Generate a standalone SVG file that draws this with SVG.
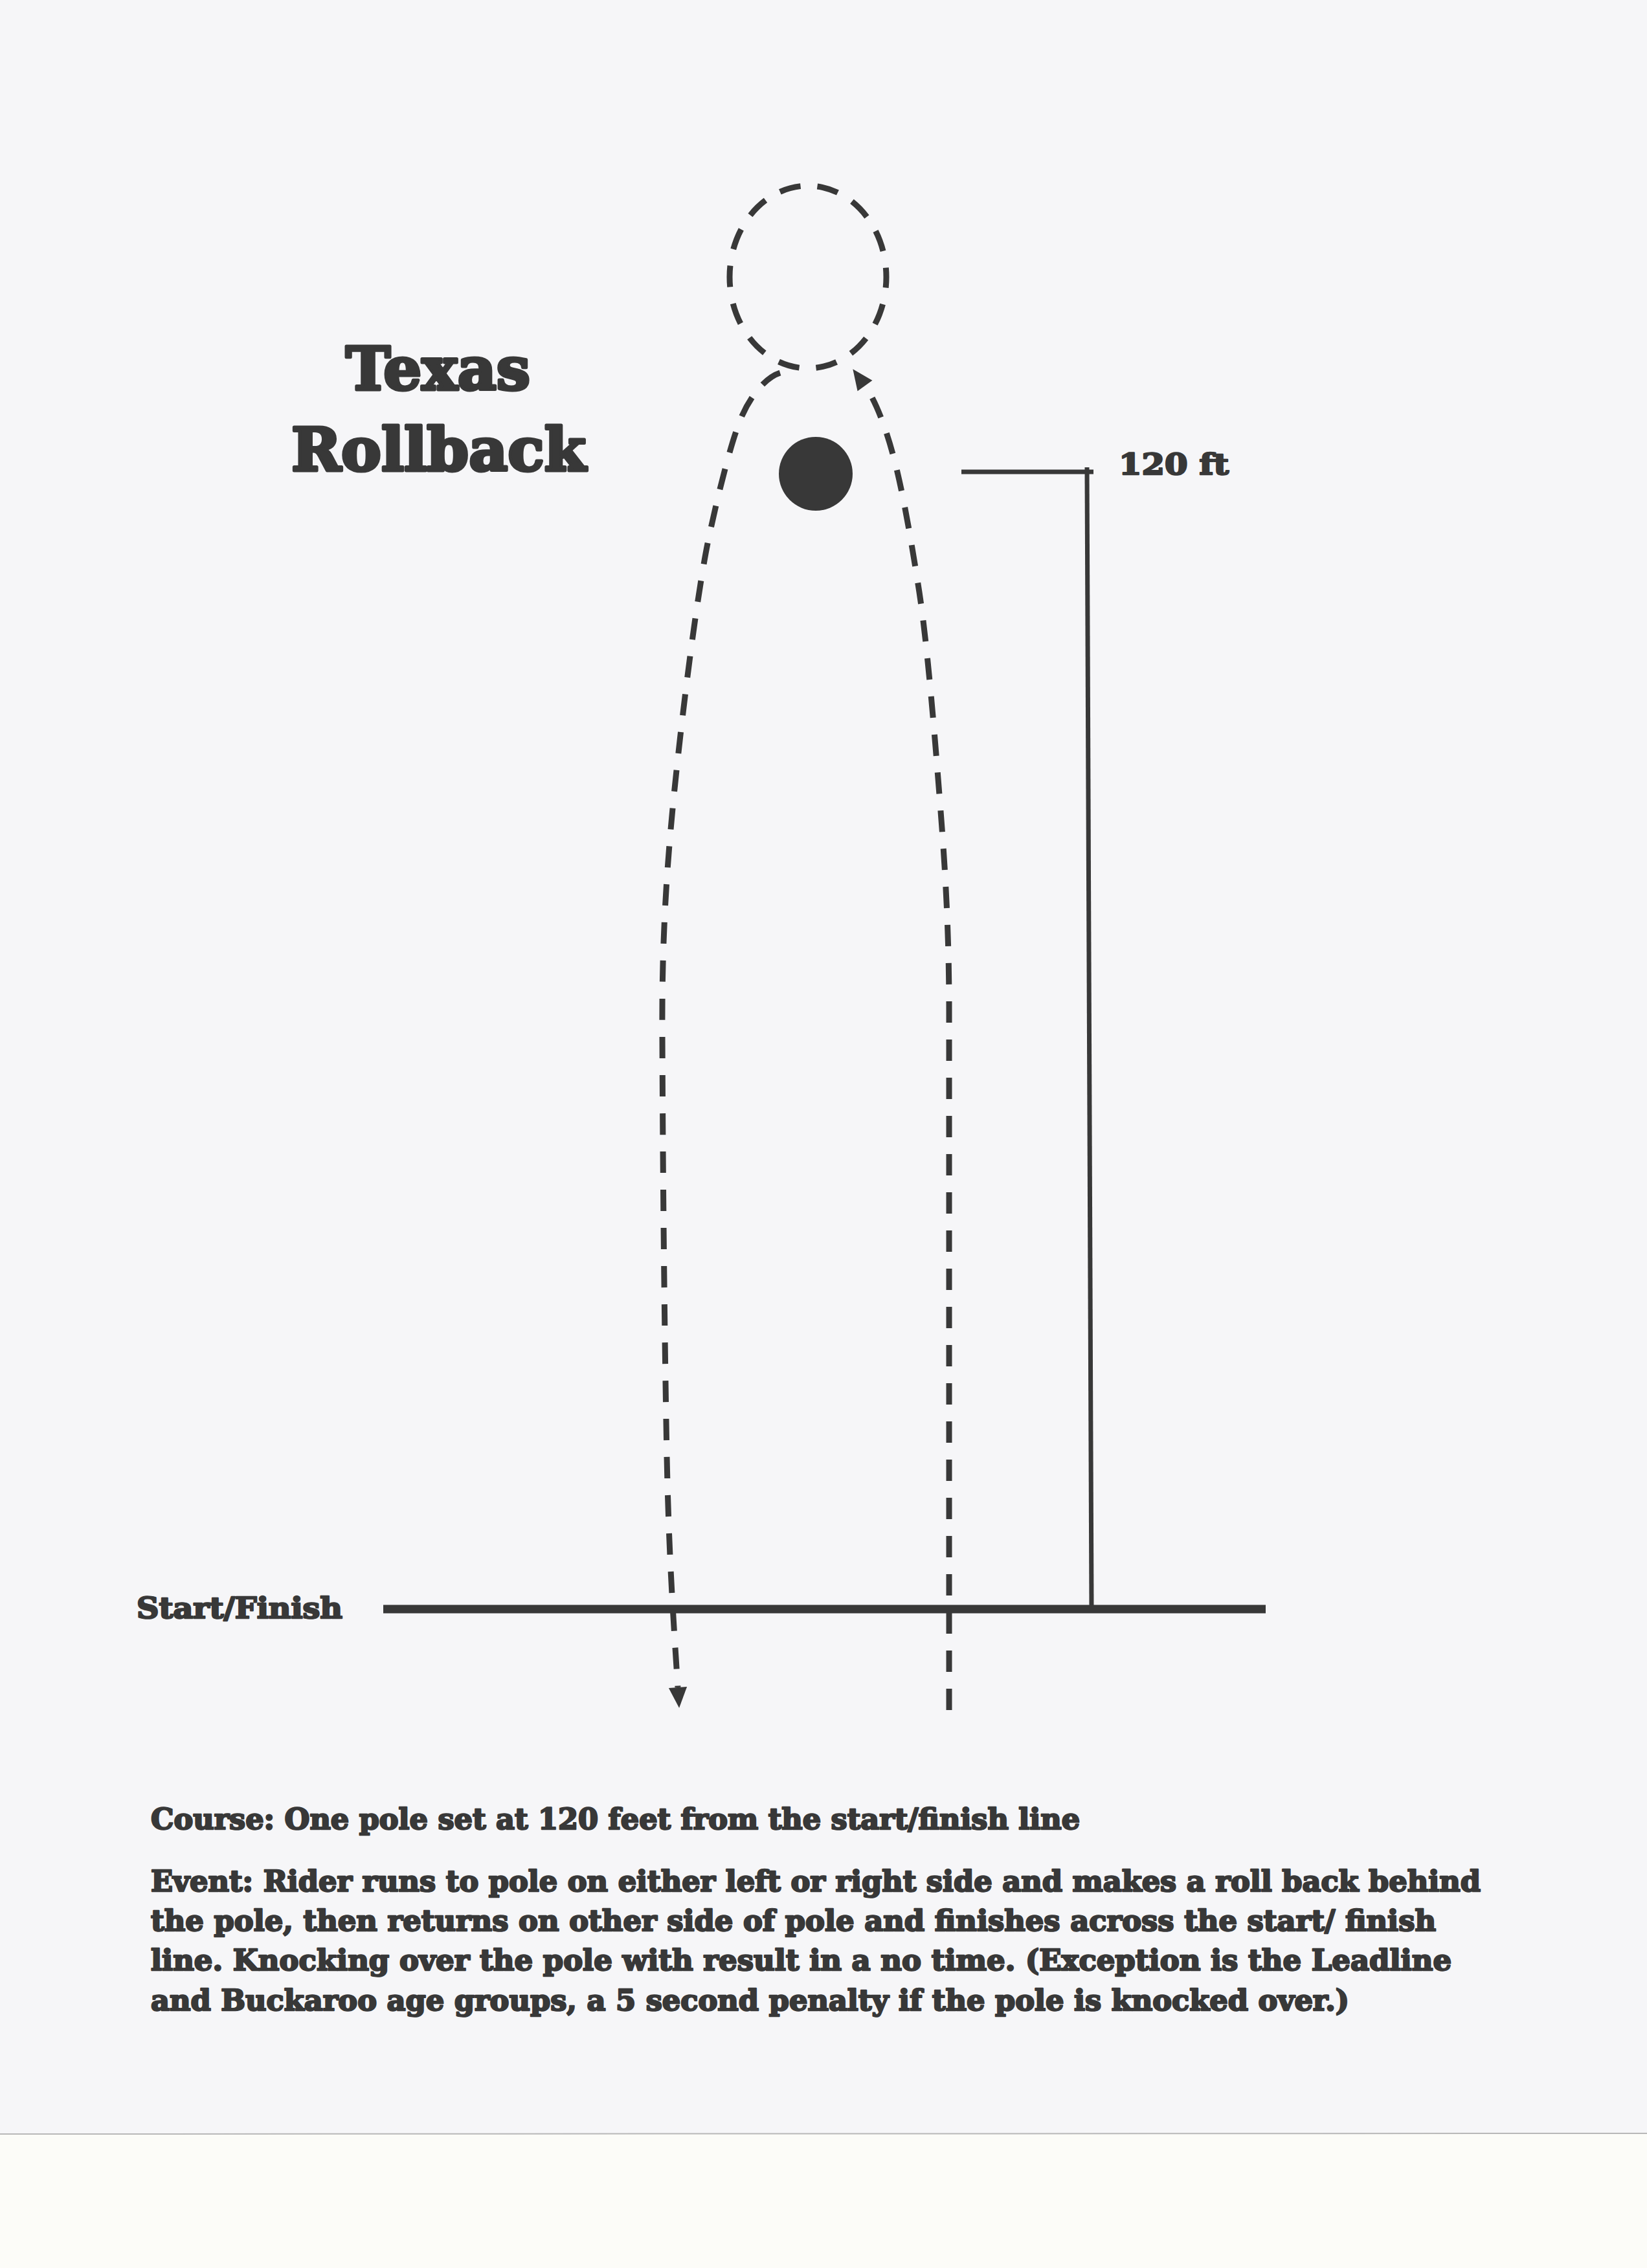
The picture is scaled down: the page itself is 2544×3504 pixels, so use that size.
<svg xmlns="http://www.w3.org/2000/svg" width="2544" height="3504" viewBox="0 0 2544 3504">
<style>
.t{font-family:"DejaVu Serif","Liberation Serif",serif;font-weight:bold;fill:#383838;stroke:#383838;stroke-width:2.5;stroke-linejoin:round}
.big{stroke-width:5}
.dash{fill:none;stroke:#383838;stroke-width:9;stroke-dasharray:33 26}
.solid{stroke:#383838;fill:none}
</style>
<defs>
<marker id="arr" markerUnits="userSpaceOnUse" markerWidth="40" markerHeight="40" refX="0" refY="0" viewBox="-2 -16 34 32" orient="auto">
<path d="M0,-12 L27,0 L0,12 z" fill="#383838"/>
</marker>
</defs>
<rect x="0" y="0" width="2544" height="3297" fill="#f6f6f8"/>
<rect x="0" y="3297" width="2544" height="207" fill="#fcfcf8"/>
<line x1="0" y1="3297" x2="2544" y2="3296" stroke="#b8b8b8" stroke-width="2"/>

<g id="title">
<text class="t big" x="534" y="602" font-size="92" textLength="285" lengthAdjust="spacingAndGlyphs">Texas</text>
<text class="t big" x="450" y="727" font-size="92" textLength="455" lengthAdjust="spacingAndGlyphs">Rollback</text>
</g>

<g id="rollback-circle">
<ellipse cx="1248" cy="428" rx="121" ry="141" class="dash" stroke-dashoffset="16.5"/>
</g>

<g id="pole">
<circle cx="1260" cy="732" r="57" fill="#383838"/>
</g>

<g id="start-finish">
<line x1="592" y1="2486" x2="1955" y2="2486" class="solid" stroke-width="13"/>
<text class="t" x="211" y="2500" font-size="44" textLength="318" lengthAdjust="spacingAndGlyphs">Start/Finish</text>
</g>

<g id="distance">
<line x1="1485" y1="729" x2="1689" y2="729" class="solid" stroke-width="7"/>
<line x1="1679" y1="722" x2="1686" y2="2486" class="solid" stroke-width="7"/>
<text class="t" x="1728" y="733" font-size="45" textLength="170" lengthAdjust="spacingAndGlyphs">120 ft</text>
</g>

<g id="connectors">
<path class="dash" d="M1205,576 C1183,583 1160,610 1145,645 C1130,680 1110,760 1095,830 C1080,900 1060,1050 1045,1190 C1030,1330 1022,1450 1023,1600 C1024,1850 1027,2100 1030,2250 C1033,2400 1040,2500 1047,2607" marker-end="url(#arr)"/>
<path class="dash" d="M1466,2642 L1466,1560 C1466,1400 1455,1280 1448,1190 C1440,1090 1430,980 1420,915 C1410,850 1395,760 1380,705 C1368,660 1352,618 1336,596" marker-end="url(#arr)"/>
</g>

<g id="description">
<text class="t" x="233" y="2826" font-size="44" textLength="1435" lengthAdjust="spacingAndGlyphs">Course: One pole set at 120 feet from the start/finish line</text>
<text class="t" x="233" y="2922" font-size="44" textLength="2054" lengthAdjust="spacingAndGlyphs">Event: Rider runs to pole on either left or right side and makes a roll back behind</text>
<text class="t" x="233" y="2983" font-size="44" textLength="1985" lengthAdjust="spacingAndGlyphs">the pole, then returns on other side of pole and finishes across the start/ finish</text>
<text class="t" x="233" y="3044" font-size="44" textLength="2009" lengthAdjust="spacingAndGlyphs">line. Knocking over the pole with result in a no time. (Exception is the Leadline</text>
<text class="t" x="233" y="3106" font-size="44" textLength="1851" lengthAdjust="spacingAndGlyphs">and Buckaroo age groups, a 5 second penalty if the pole is knocked over.)</text>
</g>
</svg>
